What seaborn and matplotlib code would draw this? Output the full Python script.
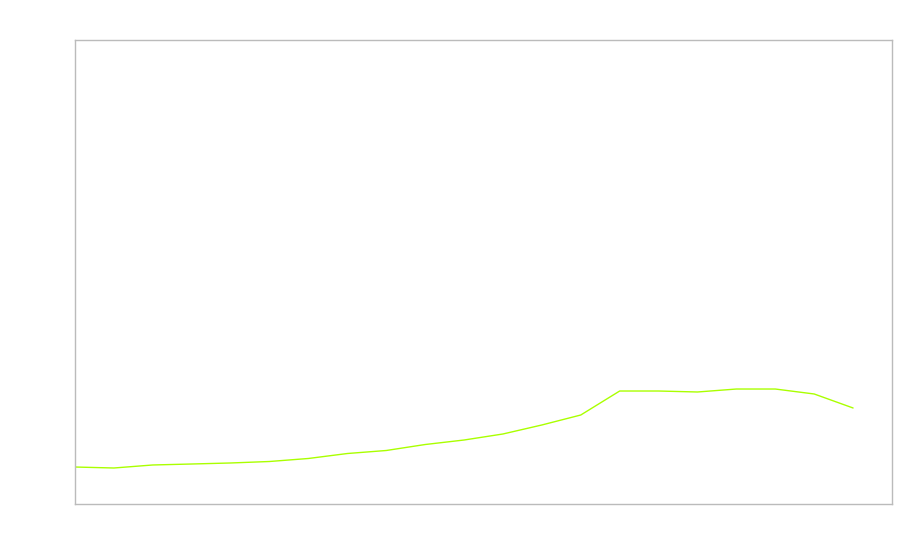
import matplotlib
matplotlib.use("Agg")
import matplotlib.pyplot as plt
import seaborn as sns
import pandas as pd

# values (axis has no visible ticks, units relative 0-100)
years = list(range(2000, 2021))
values = [7.97, 7.76, 8.41, 8.62, 8.84, 9.16, 9.81, 10.88, 11.53, 12.82, 13.79,
          15.09, 17.03, 19.18, 24.35, 24.35, 24.14, 24.78, 24.78, 23.71, 20.69]

df = pd.DataFrame({"year": years, "value": values})

sns.set_style("white")
fig = plt.figure(figsize=(9, 5.6), dpi=100)
ax = fig.add_axes([75 / 900, 56 / 560, 817 / 900, 464 / 560])

sns.lineplot(data=df, x="year", y="value", color="#aaff00", linewidth=1, ax=ax)

ax.set_xlim(2000, 2021)
ax.set_ylim(0, 100)
ax.set_xticks([])
ax.set_yticks([])
ax.set_xlabel("")
ax.set_ylabel("")
for s in ax.spines.values():
    s.set_color("#bbbbbb")
    s.set_linewidth(1)

fig.savefig("out.png", dpi=100)
